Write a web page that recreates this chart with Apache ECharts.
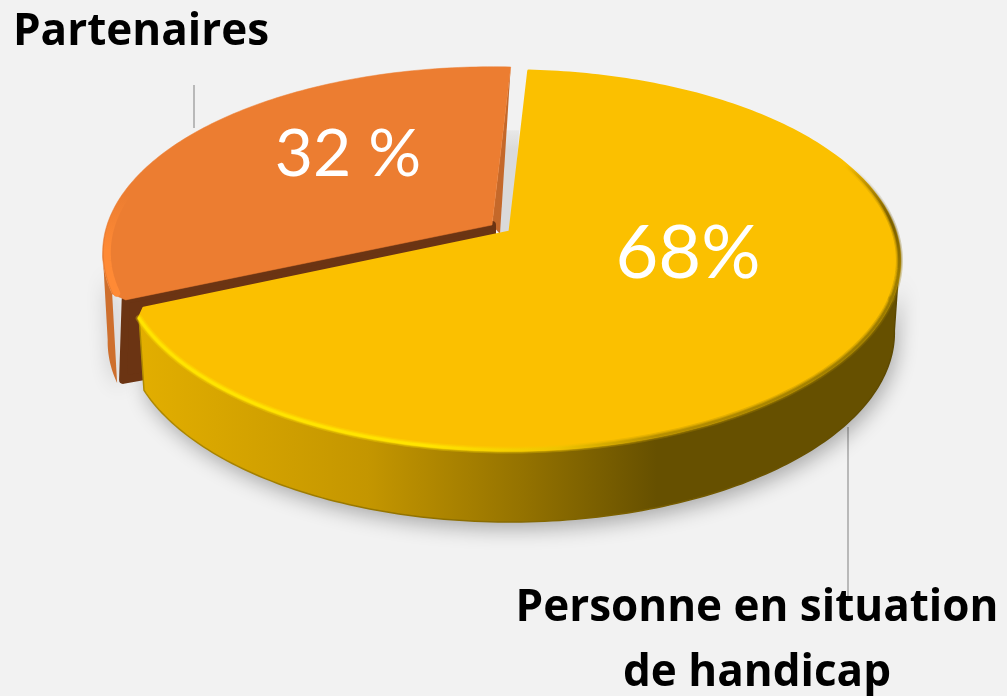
<!DOCTYPE html>
<html><head><meta charset="utf-8">
<style>html,body{margin:0;padding:0;background:#F2F2F2}#c{width:1007px;height:696px}</style>
<script src="https://cdn.jsdelivr.net/npm/echarts@6/dist/echarts.min.js"></script>
</head><body><div id="c"></div>
<script>
// Data
const categories = ['Partenaires', 'Personne en situation\nde handicap'];
const values = [32, 68];
const valueLabels = ['32 %', '68%'];

// Layout and style of the tilted pie
const startDeg = 246.6, apexX = 510, apexY = 232, radX = 385, persp = -0.15, radY = 185.3;
const bottomScale = 0.987, tangent = 98, cutGap = 1.4, cornerDeg = 2.4, cornerInset = 0.975;
const depths = [89, 72];
const offsets = [[-18, -7], [0, 0]];
const squash = [0.982, 1];
const topColors = ['#EC7D31', '#FBC000'];
const valuePos = [[348, 155], [688, 254]];
const valueSize = [66, 74];
const namePos = [[141, 32], [757, 641]];

const total = values.reduce((a, b) => a + b, 0);
const LG = echarts.graphic.LinearGradient;

function pt(deg, i, h, s) {
  const off = offsets[i], t = deg * Math.PI / 180, u = Math.sin(t), v = -Math.cos(t), w = 1 + persp * v;
  const k = h ? bottomScale : 1;
  return [apexX + off[0] + radX * u / w * k * (s || 1), apexY + off[1] + radY * squash[i] * v / w * (s || 1) + h];
}
function arc(a, b, i, h, s) {
  const out = [], n = Math.max(2, Math.ceil(Math.abs(b - a)));
  for (let j = 0; j <= n; j++) out.push(pt(a + (b - a) * j / n, i, h, s));
  return out;
}
function spans() {
  let a = startDeg;
  return values.map(v => { const s = [a, a + v / total * 360]; a = s[1]; return s; });
}
const yellowWall = new LG(140, 0, 900, 0, [
  {offset: 0, color: '#E2AE00'}, {offset: .3, color: '#C49600'}, {offset: .5, color: '#957300'},
  {offset: .68, color: '#665000'}, {offset: 1, color: '#665000'}], true);
const yellowEdge = new LG(140, 0, 900, 0, [
  {offset: 0, color: '#FFE400'}, {offset: .38, color: '#FFE400'}, {offset: .55, color: '#F0C400'},
  {offset: .68, color: '#B89000'}, {offset: 1, color: '#9A7A00'}], true);
const backEdge = new LG(0, 165, 0, 275, [
  {offset: 0, color: 'rgba(110,86,0,0)'}, {offset: .5, color: 'rgba(110,86,0,0.8)'}, {offset: 1, color: 'rgba(154,122,0,1)'}], true);
const orangeEdge = new LG(0, 195, 0, 250, [
  {offset: 0, color: 'rgba(255,138,53,0)'}, {offset: 1, color: 'rgba(255,138,53,1)'}], true);

function wallPts(i, sp) {
  const d = depths[i];
  return i === 1
    ? arc(sp[1] - cornerDeg, 360 + tangent, i, 0).concat(arc(360 + tangent, sp[1] - cornerDeg, i, d))
    : arc(sp[0] + cornerDeg, 360 - tangent, i, 0).concat(arc(360 - tangent, sp[0] + cornerDeg, i, d));
}
function renderShadow(params) {
  const i = params.dataIndex;
  return {type: 'polygon', shape: {points: wallPts(i, spans()[i])}, style: {
    fill: '#DDD', shadowBlur: 20, shadowColor: 'rgba(0,0,0,0.3)', shadowOffsetY: 7, shadowOffsetX: 3}};
}
function softRim(kids, pts, color) {
  [[7, .3], [4.5, .5], [2.5, 1]].forEach(p => kids.push({type: 'polyline', shape: {points: pts},
    style: {fill: 'transparent', stroke: color, lineWidth: p[0], opacity: p[1], lineCap: 'round'}}));
}
function renderSlice(params) {
  const i = params.dataIndex, sp = spans()[i], off = offsets[i], d = depths[i], kids = [];
  const apex = [apexX + off[0], apexY + off[1]];
  const a0 = i ? sp[0] + cutGap : sp[0], a1 = i ? sp[1] : sp[1] + cutGap;
  let top;
  if (i === 0) {
    const far = pt(a1, i, 0);
    const mid = [far[0] + (apex[0] - far[0]) * .4, far[1] + (apex[1] - far[1]) * .4];
    kids.push({type: 'polygon', shape: {points: [mid, [mid[0] + 16, mid[1]], [apexX + 2, apexY + 2], [apex[0] + 8, apex[1] + 9]]},
      style: {fill: new LG(0, mid[1], 0, apexY, [{offset: 0, color: '#E8E8E8'}, {offset: .2, color: '#DADADA'}, {offset: 1, color: '#DADADA'}], true)}});
    kids.push({type: 'polygon', shape: {points: [far, apex, [apex[0] + 8, apex[1] + 9]]}, style: {fill: '#C4682A'}});
    kids.push({type: 'polygon', shape: {points: wallPts(i, sp)}, style: {fill: '#CE6F2D'}});
    const c = pt(sp[0], i, 0, cornerInset), e = pt(sp[0] + cornerDeg, i, d);
    kids.push({type: 'polygon', shape: {points: [apex, c, [e[0] + 6, e[1] - 3], [apex[0], apex[1] + d]]},
      style: {fill: '#6B3413', stroke: '#6B3413', lineWidth: 8, lineJoin: 'round'}});
    top = [apex, pt(sp[0], i, 0, cornerInset)].concat(arc(a0 + cornerDeg, a1, i, 0));
  } else {
    kids.push({type: 'polygon', shape: {points: wallPts(i, sp)},
      style: {fill: yellowWall, stroke: new LG(140, 0, 900, 0, [{offset: 0, color: '#B08A00'}, {offset: 1, color: '#5C4800'}], true), lineWidth: 1.5}});
    top = [apex].concat(arc(a0, a1 - cornerDeg, i, 0), [pt(a1, i, 0, cornerInset)]);
  }
  kids.push({type: 'polygon', shape: {points: top},
    style: {fill: topColors[i], stroke: topColors[i], lineWidth: i ? 3 : 0.5, lineJoin: 'round'}});
  if (i === 0) {
    kids.push({type: 'polyline', shape: {points: arc(sp[0] + cornerDeg, 285, i, 0, 0.988)},
      style: {fill: 'transparent', stroke: orangeEdge, lineWidth: 7, lineCap: 'round'}});
  } else {
    softRim(kids, arc(sp[1] - cornerDeg, 360 + 110, i, 0), yellowEdge);
    softRim(kids, arc(360 + 110, 360 + 58, i, 0), backEdge);
  }
  kids.push({type: 'text', style: {text: valueLabels[i], x: valuePos[i][0], y: valuePos[i][1], align: 'center', verticalAlign: 'middle',
    fill: '#FFF', font: valueSize[i] + 'px Lato'}});
  kids.push({type: 'text', style: {text: categories[i], x: namePos[i][0], y: namePos[i][1], align: 'center', verticalAlign: 'middle',
    fill: '#000', font: 'bold 44px "Open Sans"', lineHeight: 65}});
  return {type: 'group', children: kids};
}
const chart = echarts.init(document.getElementById('c'), null, {renderer: 'canvas'});
chart.setOption({
  animation: false,
  backgroundColor: '#F2F2F2',
  graphic: [
    {type: 'line', z: 0, shape: {x1: 194, y1: 85, x2: 194, y2: 128}, style: {stroke: '#A6A6A6', lineWidth: 1.5}},
    {type: 'line', z: 0, shape: {x1: 848, y1: 427, x2: 848, y2: 598}, style: {stroke: '#A6A6A6', lineWidth: 1.5}}
  ],
  series: [
    {type: 'custom', coordinateSystem: 'none', silent: true, z: 1, data: values, renderItem: renderShadow},
    {type: 'custom', coordinateSystem: 'none', silent: true, z: 2, data: values, renderItem: renderSlice}
  ]
});
</script></body></html>
